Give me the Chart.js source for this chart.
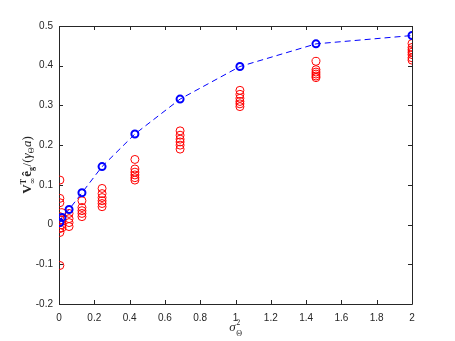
<!DOCTYPE html>
<html>
<head>
<meta charset="utf-8">
<script src="https://cdn.jsdelivr.net/npm/chart.js@4/dist/chart.umd.min.js"></script>
<style>
html,body{margin:0;padding:0;background:#fff;}
canvas{display:block;}
</style>
</head>
<body>
<canvas id="c" width="455" height="341"></canvas>
<script>
// ---- data ----
const sigmaSq = [0.005, 0.017, 0.057, 0.13, 0.244, 0.43, 0.686, 1.025, 1.456, 2.0];
const blueMean = [0.005, 0.018, 0.038, 0.080, 0.146, 0.228, 0.316, 0.398, 0.455, 0.476];
const redRuns = [
  [0.112, 0.066, 0.055, 0.020, 0.005, -0.010, -0.020, -0.103],
  [0.030, 0.012, 0.000, -0.008],
  [0.028, 0.015, 0.005, -0.005],
  [0.060, 0.043, 0.035, 0.028, 0.020],
  [0.091, 0.078, 0.068, 0.060, 0.053, 0.045],
  [0.164, 0.140, 0.132, 0.125, 0.118, 0.112],
  [0.236, 0.225, 0.215, 0.208, 0.200, 0.190],
  [0.338, 0.328, 0.318, 0.310, 0.304, 0.297],
  [0.411, 0.390, 0.384, 0.379, 0.374, 0.370],
  [0.456, 0.446, 0.440, 0.434, 0.428, 0.420, 0.414]
];
const xTicks = [0, 0.2, 0.4, 0.6, 0.8, 1, 1.2, 1.4, 1.6, 1.8, 2];
const yTicks = [-0.2, -0.1, 0, 0.1, 0.2, 0.3, 0.4, 0.5];

const bluePts = sigmaSq.map((x, i) => ({x: x, y: blueMean[i]}));
const redPts = [];
redRuns.forEach((arr, i) => arr.forEach(v => redPts.push({x: sigmaSq[i], y: v})));

const AX = '#262626';
const tickFont = {family: "'Liberation Sans', Arial, sans-serif", size: 10};

const decor = {
  id: 'decor',
  beforeDatasetsDraw(chart) {
    const ctx = chart.ctx, a = chart.chartArea;
    const xs = chart.scales.x, ys = chart.scales.y;
    ctx.save();
    ctx.strokeStyle = AX;
    ctx.lineWidth = 1;
    ctx.beginPath();
    ctx.rect(Math.round(a.left) + 0.5, Math.round(a.top) + 0.5,
             Math.round(a.right - a.left), Math.round(a.bottom - a.top));
    ctx.stroke();
    ctx.beginPath();
    const tl = 4;
    xTicks.forEach(v => {
      const p = Math.round(xs.getPixelForValue(v)) + 0.5;
      ctx.moveTo(p, a.bottom); ctx.lineTo(p, a.bottom - tl);
      ctx.moveTo(p, a.top); ctx.lineTo(p, a.top + tl);
    });
    yTicks.forEach(v => {
      const p = Math.round(ys.getPixelForValue(v)) + 0.5;
      ctx.moveTo(a.left, p); ctx.lineTo(a.left + tl, p);
      ctx.moveTo(a.right, p); ctx.lineTo(a.right - tl, p);
    });
    ctx.stroke();
    ctx.restore();
  },
  afterDraw(chart) {
    const ctx = chart.ctx, a = chart.chartArea;
    ctx.save();
    ctx.fillStyle = AX;
    ctx.textBaseline = 'alphabetic';
    // x label: sigma^2_Theta
    const cx = (a.left + a.right) / 2;
    ctx.font = "italic 13px 'Liberation Serif', serif";
    const sw = ctx.measureText('σ').width;
    const x0 = cx - (sw + 6) / 2;
    ctx.fillText('σ', x0, 331);
    ctx.font = "8px 'Liberation Serif', serif";
    ctx.fillText('2', x0 + sw + 0.5, 325);
    ctx.fillText('Θ', x0 + sw + 0.5, 336);
    // y label
    ctx.translate(27, (a.top + a.bottom) / 2);
    ctx.rotate(-Math.PI / 2);
    const segs = [
      {t: 'V', f: "bold 13px 'Liberation Serif', serif", dy: 0},
      {t: 'T', f: "bold 8px 'Liberation Serif', serif", dy: -5, stack: true},
      {t: '∞', f: "8px 'DejaVu Serif', serif", dy: 3.5, stackEnd: true},
      {t: 'ê', f: "bold 13px 'Liberation Serif', serif", dy: 0, pre: 1},
      {t: 'g', f: "bold 8px 'Liberation Serif', serif", dy: 3},
      {t: '/(', f: "13px 'Liberation Serif', serif", dy: 0, pre: 0.5},
      {t: 'γ', f: "italic 13px 'Liberation Serif', serif", dy: 0},
      {t: 'Θ', f: "8px 'Liberation Serif', serif", dy: 3},
      {t: 'a', f: "italic 13px 'Liberation Serif', serif", dy: 0, pre: 0.5},
      {t: ')', f: "13px 'Liberation Serif', serif", dy: 0}
    ];
    let total = 0, stackW = 0;
    const widths = segs.map(s => { ctx.font = s.f; return ctx.measureText(s.t).width; });
    segs.forEach((s, i) => {
      total += (s.pre || 0);
      if (s.stack) { stackW = widths[i]; }
      else if (s.stackEnd) { total += Math.max(stackW, widths[i]); }
      else total += widths[i];
    });
    let x = -total / 2;
    let stackX = 0;
    segs.forEach((s, i) => {
      ctx.font = s.f;
      x += (s.pre || 0);
      if (s.stack) { stackX = x; ctx.fillText(s.t, x, 4 + s.dy); stackW = widths[i]; }
      else if (s.stackEnd) { ctx.fillText(s.t, stackX, 4 + s.dy); x = stackX + Math.max(stackW, widths[i]); }
      else { ctx.fillText(s.t, x, 4 + s.dy); x += widths[i]; }
    });
    ctx.restore();
  }
};

new Chart(document.getElementById('c'), {
  type: 'scatter',
  data: {
    datasets: [
      {
        label: 'mean',
        data: bluePts,
        showLine: true,
        borderColor: '#0000ff',
        borderWidth: 1,
        borderDash: [6, 4],
        pointStyle: 'circle',
        pointRadius: 3.5,
        pointBorderWidth: 2,
        pointBorderColor: '#0000ff',
        pointBackgroundColor: 'rgba(0,0,0,0)',
        order: 0
      },
      {
        label: 'runs',
        data: redPts,
        showLine: false,
        pointStyle: 'circle',
        pointRadius: 4,
        pointBorderWidth: 1,
        pointBorderColor: '#ff0000',
        pointBackgroundColor: 'rgba(0,0,0,0)',
        order: 1
      }
    ]
  },
  options: {
    responsive: false,
    animation: false,
    devicePixelRatio: 1,
    layout: {padding: {left: 0, top: 26, right: 43, bottom: 0}},
    plugins: {legend: {display: false}, tooltip: {enabled: false}},
    scales: {
      x: {
        type: 'linear', min: 0, max: 2,
        afterBuildTicks: s => { s.ticks = xTicks.map(v => ({value: v})); },
        afterFit: s => { s.height = 37; },
        grid: {display: false, drawTicks: false},
        border: {display: false},
        ticks: {color: AX, font: tickFont, padding: 8, maxRotation: 0, autoSkip: false,
                callback: v => String(v)}
      },
      y: {
        type: 'linear', min: -0.2, max: 0.5,
        afterBuildTicks: s => { s.ticks = yTicks.map(v => ({value: v})); },
        afterFit: s => { s.width = 59; },
        grid: {display: false, drawTicks: false},
        border: {display: false},
        ticks: {color: AX, font: tickFont, padding: 6, autoSkip: false,
                callback: v => String(v)}
      }
    }
  },
  plugins: [decor]
});
</script>
</body>
</html>
